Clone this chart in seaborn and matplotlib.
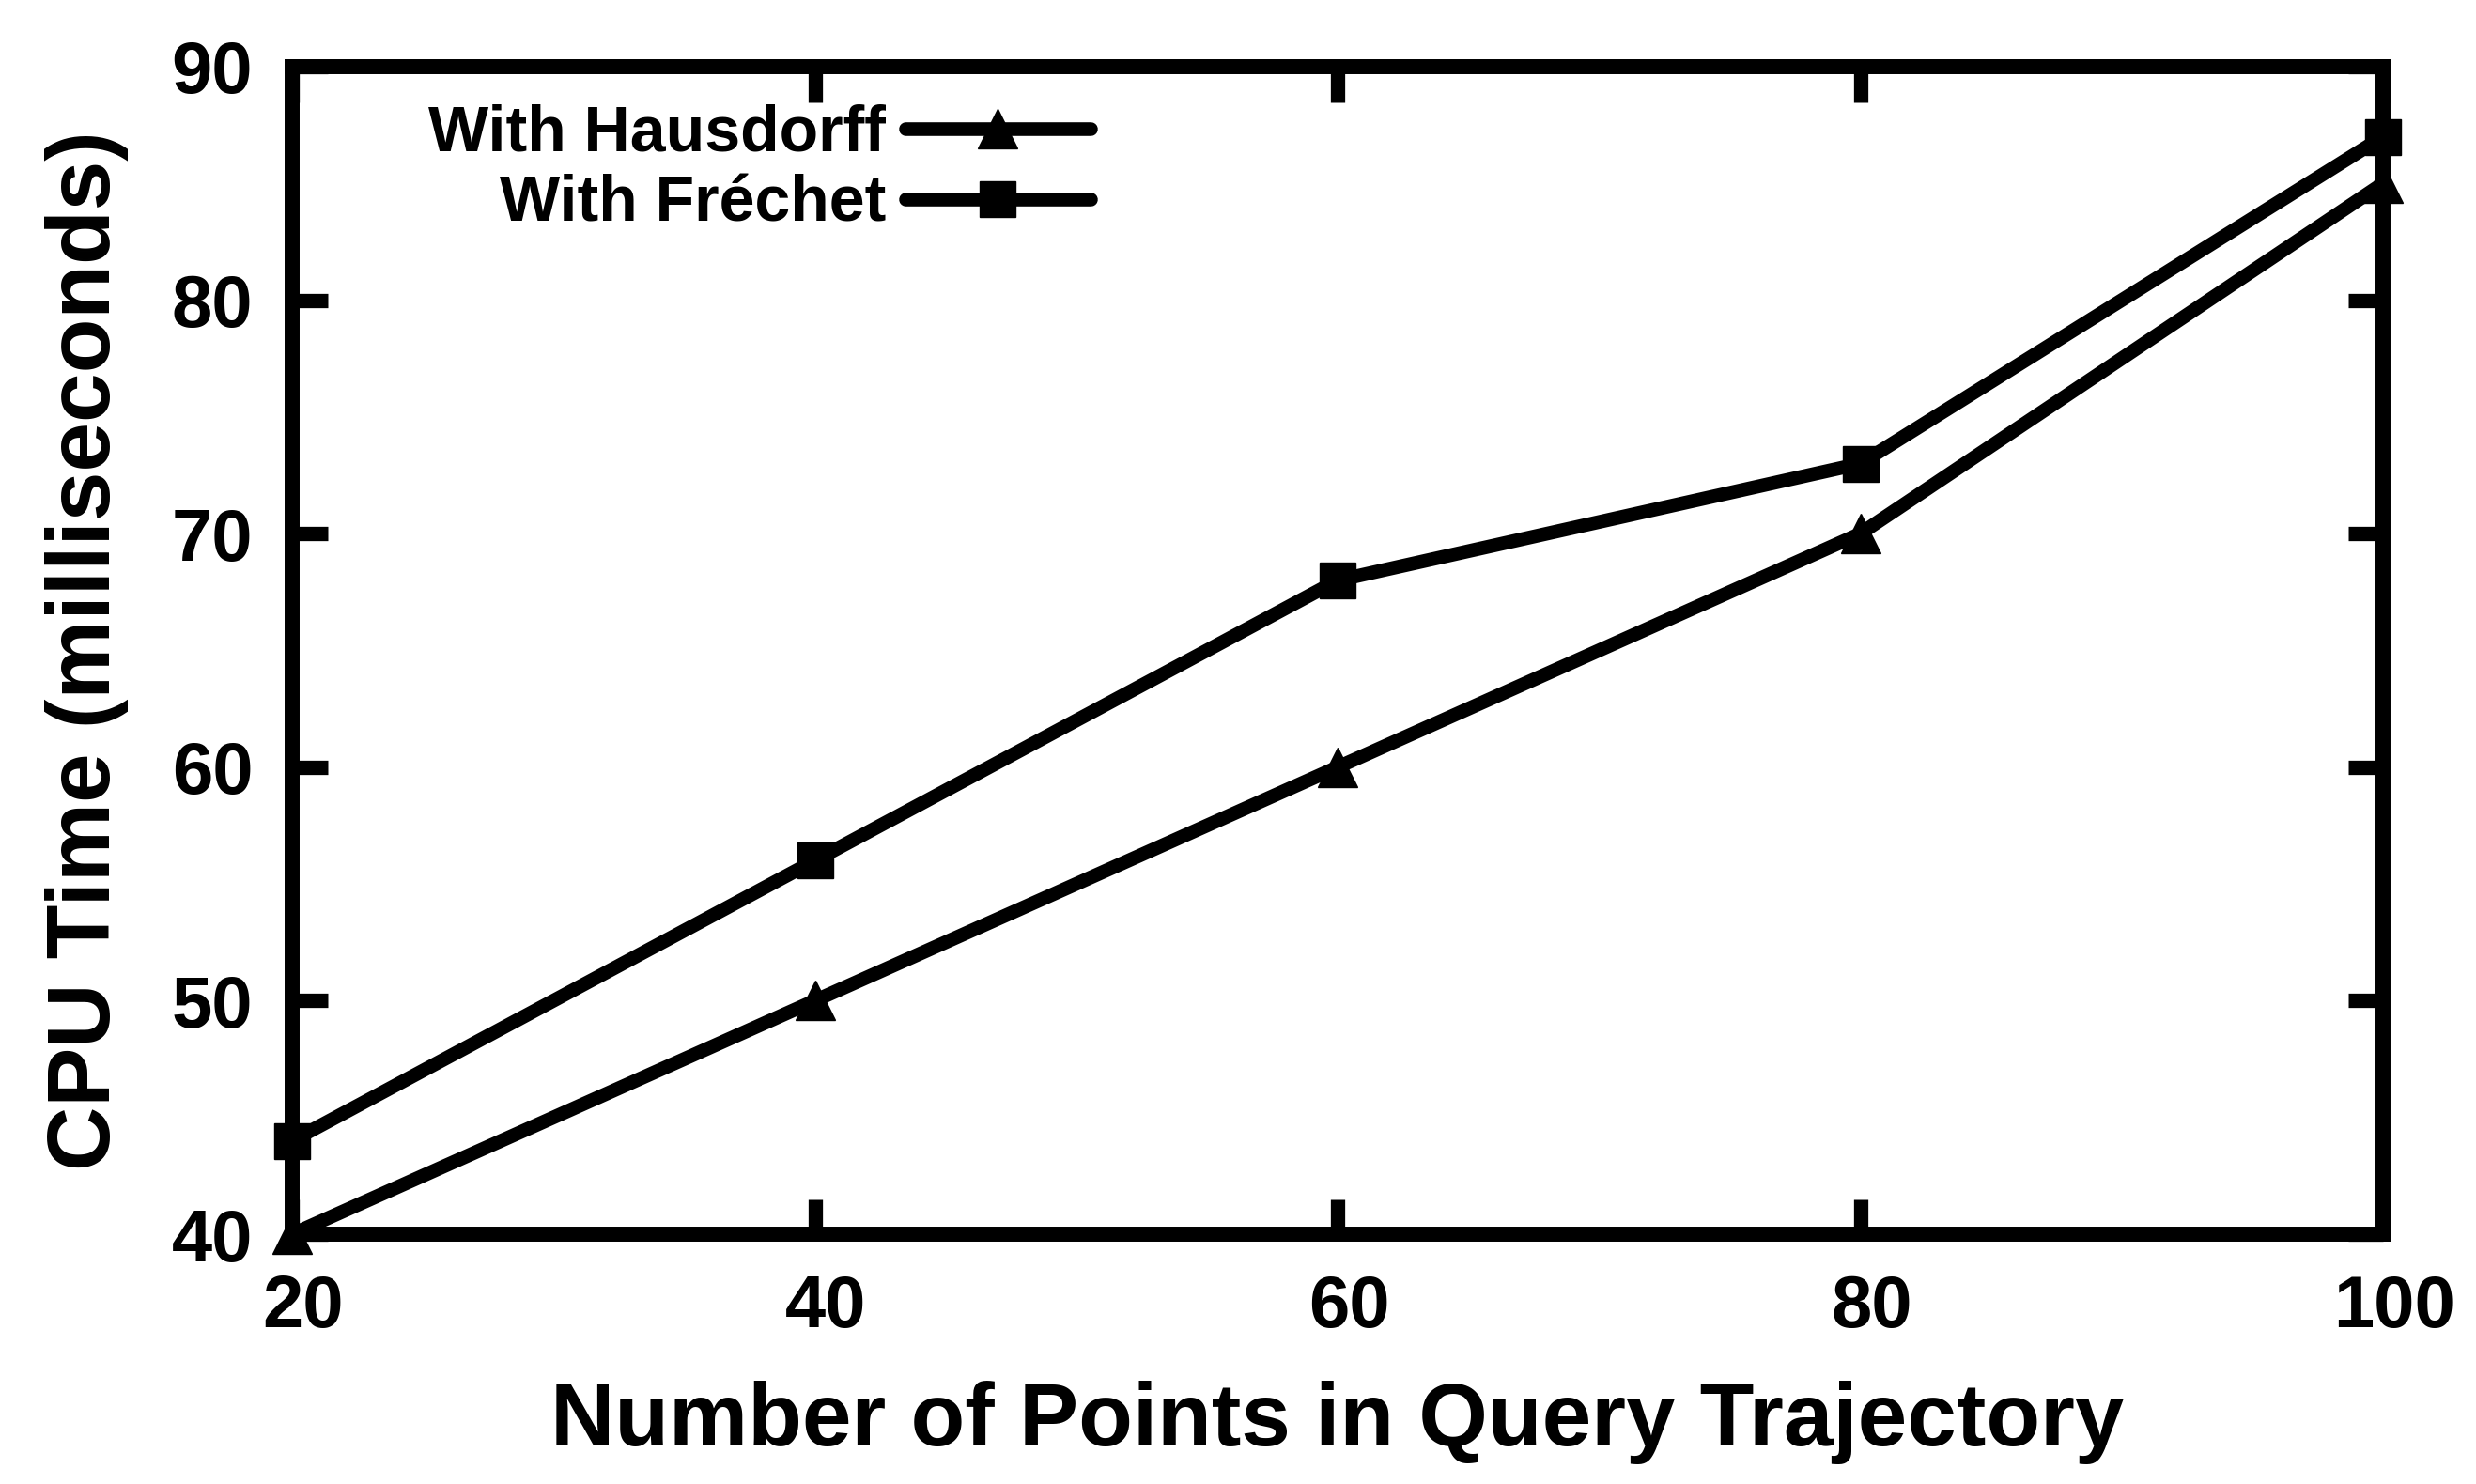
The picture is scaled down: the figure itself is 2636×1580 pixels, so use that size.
import numpy as np
import pandas as pd
import matplotlib
matplotlib.use("Agg")
import matplotlib.pyplot as plt
import matplotlib.transforms as mtransforms
import seaborn as sns

# ---- data ----
points = [20, 40, 60, 80, 100]
hausdorff = [40, 50, 60, 70, 85]
frechet = [44, 56, 68, 73, 87]
series_names = ["With Hausdorff", "With Fréchet"]
x_ticks = [20, 40, 60, 80, 100]
y_ticks = [40, 50, 60, 70, 80, 90]
x_label = "Number of Points in Query Trajectory"
y_label = "CPU Time (milliseconds)"

df = pd.DataFrame({
    "points": points * 2,
    "time": hausdorff + frechet,
    "method": [series_names[0]] * len(points) + [series_names[1]] * len(points),
})

sns.set_theme(style="white")
plt.rcParams["font.family"] = ["Liberation Sans", "DejaVu Sans"]
plt.rcParams["font.weight"] = "bold"
plt.rcParams["axes.labelweight"] = "bold"

W, H = 2636, 1580
fig = plt.figure(figsize=(W / 100, H / 100), dpi=100)
ax = fig.add_axes([311 / W, 1 - 1314 / H, (2537 - 311) / W, (1314 - 71) / H])

sns.lineplot(
    data=df, x="points", y="time", hue="method", style="method",
    palette={n: "black" for n in series_names},
    markers={series_names[0]: "^", series_names[1]: "s"},
    dashes=False, linewidth=10.5, markersize=30,
    markeredgewidth=1, markeredgecolor="black",
    ax=ax, legend=False, clip_on=False, zorder=5,
)
for ln in ax.lines:
    ln.set_clip_on(False)
    ln.set_solid_joinstyle("miter")
ax.lines[1].set_markersize(28)

ax.set_xlim(20, 100)
ax.set_ylim(40, 90)
ax.set_xticks(x_ticks)
ax.set_yticks(y_ticks)
ax.set_xticklabels([str(v) for v in x_ticks])
ax.set_yticklabels([str(v) for v in y_ticks])
ax.tick_params(direction="in", length=27, width=11, top=True, right=True,
               bottom=True, left=True, labelsize=56, pad=30,
               color="black", labelcolor="black")
for s in ax.spines.values():
    s.set_visible(True)
    s.set_linewidth(11.5)
    s.set_color("black")
    s.set_zorder(3)

offset = mtransforms.ScaledTranslation(12 / 100, 0, fig.dpi_scale_trans)
for lab in ax.get_xticklabels():
    lab.set_transform(lab.get_transform() + offset)

ax.set_xlabel(x_label, fontsize=68, fontweight="bold", labelpad=30, color="black")
ax.set_ylabel(y_label, fontsize=68, fontweight="bold", labelpad=33, color="black")

leg = ax.legend(
    handles=ax.lines[:2], labels=series_names, loc="center right",
    bbox_to_anchor=(1161 / W, 1 - 180 / H), bbox_transform=fig.transFigure,
    frameon=False, markerfirst=False, numpoints=1, handlelength=2.9,
    handletextpad=0.3, labelspacing=0.16, borderpad=0, borderaxespad=0,
    prop={"size": 49, "weight": "bold"},
)
for t in leg.get_texts():
    t.set_color("black")

fig.savefig("out.png", dpi=100, facecolor="white")
